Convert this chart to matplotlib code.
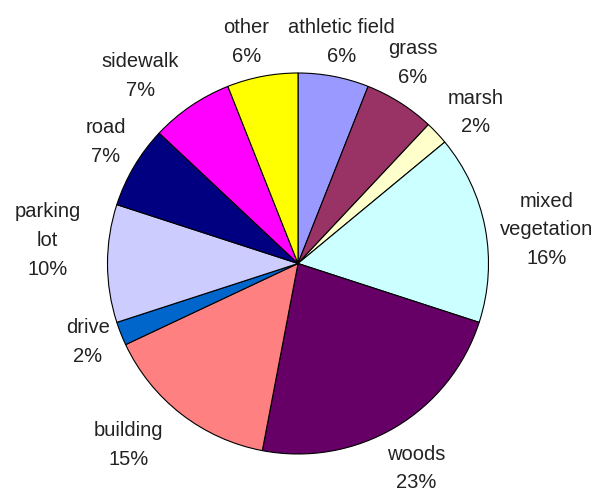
import matplotlib
matplotlib.use("Agg")
import matplotlib.pyplot as plt

labels = ["athletic field", "grass", "marsh", "mixed\nvegetation", "woods",
          "building", "drive", "parking\nlot", "road", "sidewalk", "other"]
values = [6, 6, 2, 16, 23, 15, 2, 10, 7, 7, 6]
colors = ["#9999FF", "#993366", "#FFFFCC", "#CCFFFF", "#660066",
          "#FF8080", "#0066CC", "#CCCCFF", "#000080", "#FF00FF", "#FFFF00"]
# nudges (pixels, right / down) to match Excel's label placement
nudges = [(0, 7), (-10, -4), (8, 8), (20, 10), (0, 5), (-27, -2),
          (6, -7), (-18, -23), (8, -3), (-27, 5), (-8, 7)]

plt.rcParams["font.family"] = ["Liberation Sans", "DejaVu Sans"]

fig = plt.figure(figsize=(6, 4.91), dpi=100)
cx, cy, r = 298, 263.5, 190.5
ax = fig.add_axes([(cx - r) / 600, (491 - cy - r) / 491, 2 * r / 600, 2 * r / 491])

text_labels = ["%s\n%d%%" % (l, v) for l, v in zip(labels, values)]
wedges, texts = ax.pie(values, colors=colors, startangle=90, counterclock=False,
                       labels=text_labels, labeldistance=1.22,
                       wedgeprops=dict(edgecolor="black", linewidth=0.8))
for t, (dx, dy) in zip(texts, nudges):
    x, y = t.get_position()
    t.set_position((x + dx / r, y - dy / r))
    t.set_ha("center")
    t.set_va("center")
    t.set_fontsize(14.5)
    t.set_linespacing(1.65)
    t.set_color("#222222")
    t.set_clip_on(False)

ax.set_xlim(-1, 1)
ax.set_ylim(-1, 1)
ax.set_aspect("equal")
ax.axis("off")

fig.savefig("out.png", dpi=100)
